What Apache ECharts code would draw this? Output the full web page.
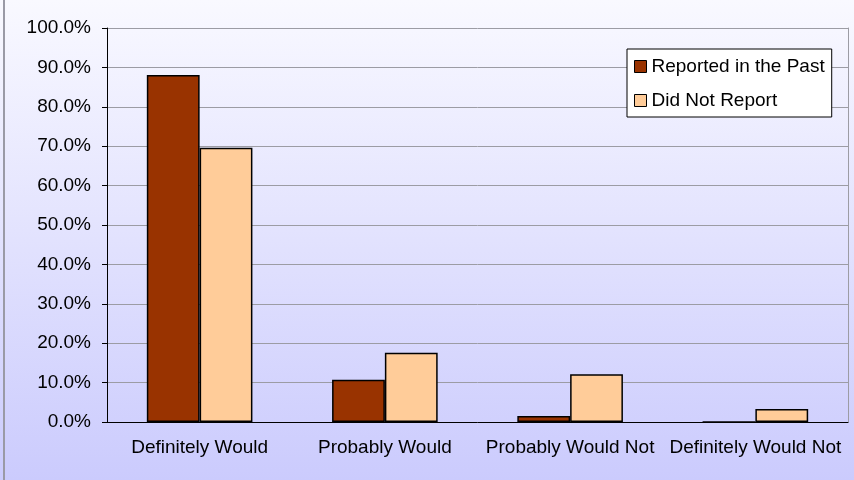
<!DOCTYPE html>
<html>
<head>
<meta charset="utf-8">
<script src="https://cdn.jsdelivr.net/npm/echarts@6/dist/echarts.min.js"></script>
<style>
  html, body { margin: 0; padding: 0; }
  #chart { width: 854px; height: 480px; }
</style>
</head>
<body>
<div id="chart"></div>
<script>
// categories and values (percent)
const categories = ['Definitely Would', 'Probably Would', 'Probably Would Not', 'Definitely Would Not'];
const reportedPast = [88.1, 10.7, 1.5, 0];
const didNotReport = [69.6, 17.6, 12.1, 3.3];
const seriesNames = ['Reported in the Past', 'Did Not Report'];

document.addEventListener('DOMContentLoaded', function () {
    const myChart = echarts.init(document.getElementById('chart'));
    const font = 'Liberation Sans, Arial, sans-serif';

    const option = {
        animation: false,
        backgroundColor: {
            type: 'linear', x: 0, y: 0, x2: 0, y2: 1,
            colorStops: [
                { offset: 0, color: '#f9f9ff' },
                { offset: 1, color: '#cbcbfd' }
            ]
        },
        graphic: [{
            // left edge of the chart frame
            type: 'line',
            shape: { x1: 4, y1: 0, x2: 4, y2: 480 },
            style: { stroke: '#9a9aa6', lineWidth: 2 }
        }],
        grid: { left: 107, right: 6, top: 28, bottom: 58 },
        legend: {
            data: seriesNames,
            orient: 'vertical',
            left: 627,
            top: 49,
            padding: [8, 7, 7, 7],
            itemGap: 15,
            itemWidth: 12,
            itemHeight: 12,
            itemStyle: { borderColor: '#000', borderWidth: 1 },
            icon: 'rect',
            backgroundColor: '#ffffff',
            borderColor: '#000',
            borderWidth: 1,
            textStyle: { fontFamily: font, fontSize: 19, color: '#000', padding: [0, 0, 0, 0] }
        },
        xAxis: {
            type: 'category',
            data: categories,
            axisLine: { lineStyle: { color: '#000', width: 1 } },
            axisTick: { show: false },
            axisLabel: { fontFamily: font, fontSize: 19, color: '#000', margin: 16, interval: 0 }
        },
        yAxis: [{
            type: 'value',
            min: 0,
            max: 100,
            interval: 10,
            axisLine: { show: true, lineStyle: { color: '#000', width: 1 } },
            axisTick: { show: true, length: 5, lineStyle: { color: '#000' } },
            axisLabel: {
                fontFamily: font, fontSize: 19, color: '#000', margin: 16,
                formatter: function (v) { return v.toFixed(1) + '%'; }
            },
            splitLine: { lineStyle: { color: '#9c9ca4', width: 1 } }
        }, {
            // right edge of the plot area
            type: 'value',
            position: 'right',
            min: 0,
            max: 100,
            interval: 10,
            axisLine: { show: true, lineStyle: { color: '#9c9ca4', width: 1 } },
            axisTick: { show: false },
            axisLabel: { show: false },
            splitLine: { show: false }
        }],
        series: [{
            name: seriesNames[0],
            type: 'bar',
            data: reportedPast,
            barGap: '0%',
            barCategoryGap: '43%',
            itemStyle: { color: '#993300', borderColor: '#000', borderWidth: 1.5 }
        }, {
            name: seriesNames[1],
            type: 'bar',
            data: didNotReport,
            barGap: '0%',
            barCategoryGap: '43%',
            itemStyle: { color: '#ffcc99', borderColor: '#000', borderWidth: 1.5 }
        }]
    };

    myChart.setOption(option);
});
</script>
</body>
</html>
